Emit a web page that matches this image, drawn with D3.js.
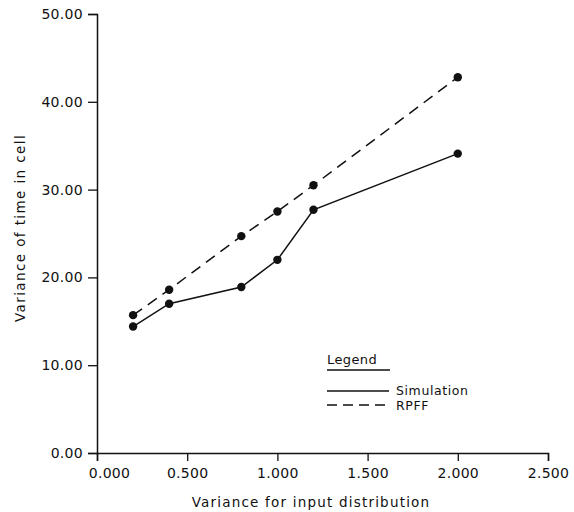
<!DOCTYPE html>
<html><head><meta charset="utf-8">
<script src="https://cdn.jsdelivr.net/npm/d3@7"></script>
<style>body{margin:0;background:#fff}svg{display:block}text{font-family:"DejaVu Sans",sans-serif;fill:#111}</style>
</head><body><svg id="c" width="574" height="512"></svg>
<script>
const xValues = [0.2, 0.4, 0.8, 1.0, 1.2, 2.0];
const simulation = [14.4, 17.0, 18.9, 22.0, 27.7, 34.1];
const rpff = [15.7, 18.6, 24.7, 27.5, 30.5, 42.8];
const xTicks = [0, 0.5, 1.0, 1.5, 2.0, 2.5];
const xTickLabels = ["0.000", "0.500", "1.000", "1.500", "2.000", "2.500"];
const yTicks = [0, 10, 20, 30, 40, 50];
const yTickLabels = ["0.00", "10.00", "20.00", "30.00", "40.00", "50.00"];
const seriesNames = ["Simulation", "RPFF"];

const svg = d3.select("#c");
const x = d3.scaleLinear().domain([0, 2.5]).range([97, 548]);
const y = d3.scaleLinear().domain([0, 50]).range([453, 14]);

const xAxis = d3.axisBottom(x).tickValues(xTicks).tickFormat((d,i)=>xTickLabels[i]).tickSize(8).tickPadding(4);
const yAxis = d3.axisLeft(y).tickValues(yTicks).tickFormat((d,i)=>yTickLabels[i]).tickSize(9).tickPadding(5);

const gx = svg.append("g").attr("transform","translate(0,453)").call(xAxis);
const gy = svg.append("g").attr("transform","translate(97,0)").call(yAxis);
[gx, gy].forEach(g=>{
  g.select(".domain").attr("stroke","#111").attr("stroke-width",1.5);
  g.selectAll(".tick line").attr("stroke","#111").attr("stroke-width",1.3);
  g.selectAll(".tick text").style("font-family","'DejaVu Sans',sans-serif").style("font-size","14px").attr("fill","#111").style("letter-spacing","0.3px");
});
gx.selectAll(".tick text").attr("dy","0.95em").attr("dx",(d,i)=>i===0?12:0);

const line = d3.line().x((d,i)=>x(xValues[i])).y(d=>y(d));
svg.append("path").datum(simulation).attr("d",line).attr("fill","none").attr("stroke","#111").attr("stroke-width",1.5);
svg.append("path").datum(rpff).attr("d",line).attr("fill","none").attr("stroke","#111").attr("stroke-width",1.5).attr("stroke-dasharray","11,7");

[simulation, rpff].forEach(s=>{
  svg.selectAll(null).data(s).enter().append("circle")
    .attr("cx",(d,i)=>x(xValues[i])).attr("cy",d=>y(d)).attr("r",4.2).attr("fill","#111");
});

// axis titles
svg.append("text").attr("x",311).attr("y",507).attr("text-anchor","middle")
  .style("font-size","13.5px").style("letter-spacing","1.2px").text("Variance for input distribution");
svg.append("text").attr("transform","translate(25,228) rotate(-90)").attr("text-anchor","middle")
  .style("font-size","13.5px").style("letter-spacing","1.4px").text("Variance of time in cell");

// legend
const lg = svg.append("g");
lg.append("text").attr("x",327).attr("y",364).style("font-size","13px").style("letter-spacing","0.4px").text("Legend");
lg.append("line").attr("x1",327).attr("x2",390).attr("y1",370).attr("y2",370).attr("stroke","#111").attr("stroke-width",1.5);
lg.append("line").attr("x1",327).attr("x2",389).attr("y1",391).attr("y2",391).attr("stroke","#111").attr("stroke-width",1.5);
lg.append("line").attr("x1",327).attr("x2",389).attr("y1",405).attr("y2",405).attr("stroke","#111").attr("stroke-width",1.5).attr("stroke-dasharray","10,6");
lg.append("text").attr("x",396).attr("y",395).style("font-size","12.5px").style("letter-spacing","0.6px").text(seriesNames[0]);
lg.append("text").attr("x",396).attr("y",410).style("font-size","12.5px").style("letter-spacing","0.6px").text(seriesNames[1]);
</script></body></html>
